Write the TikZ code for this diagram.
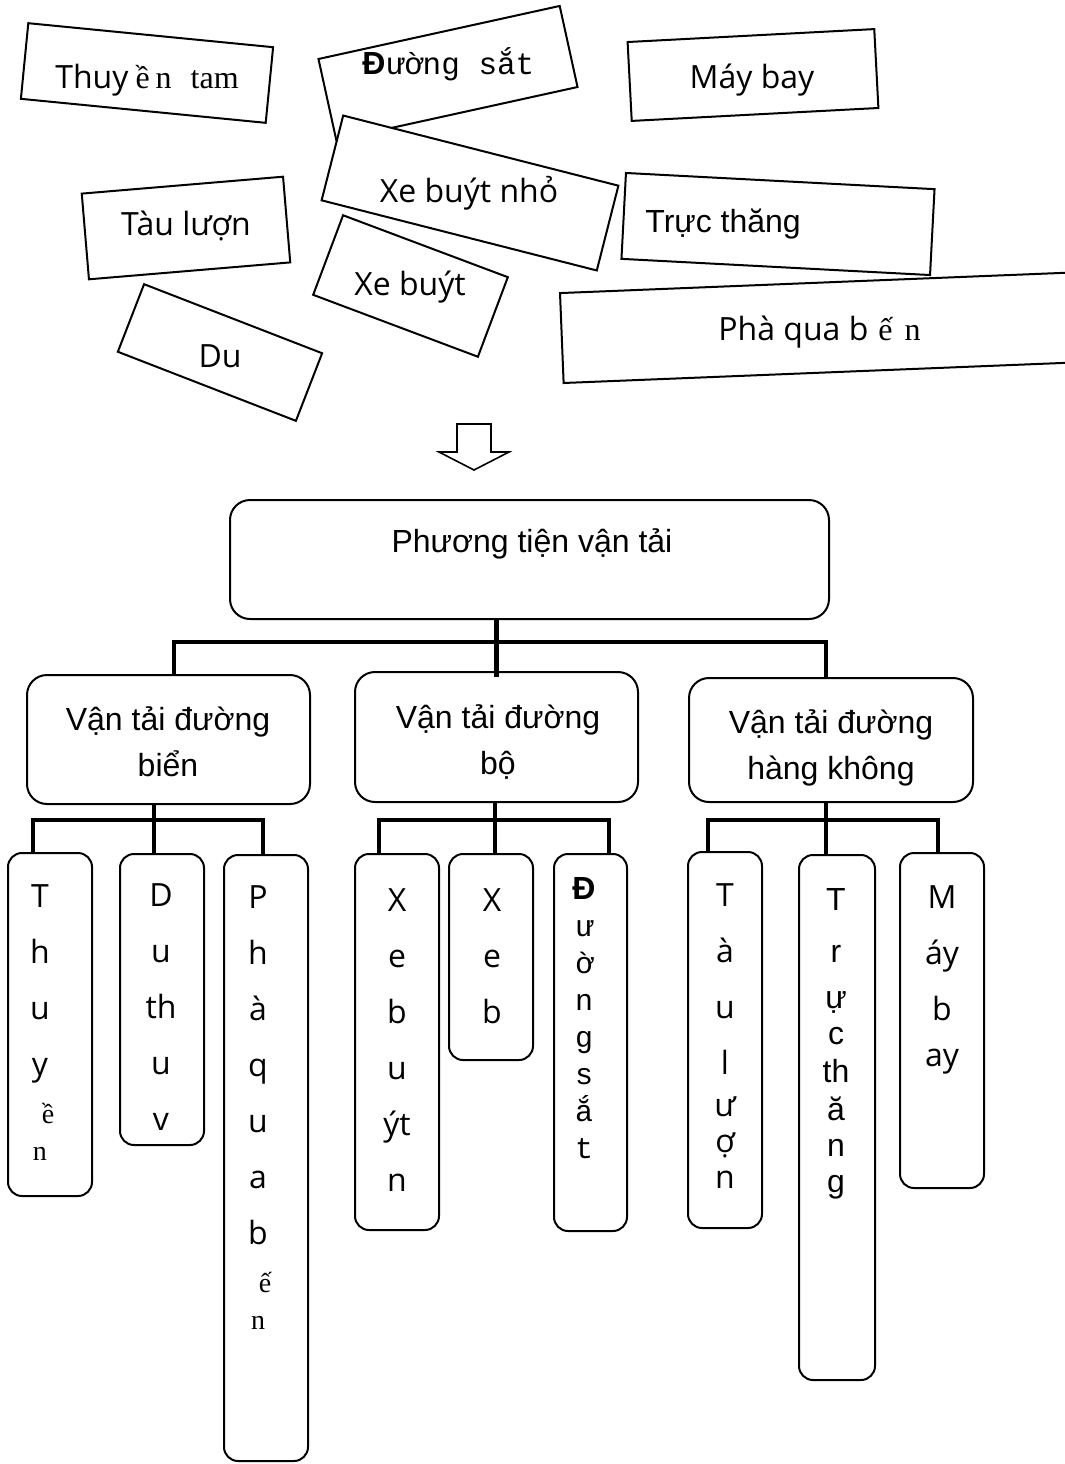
\documentclass[tikz,border=0pt]{standalone}
\usepackage{fontspec}
\setmainfont{Liberation Sans}
\newfontfamily\segoe{Open Sans}
\newfontfamily\tnr{Liberation Serif}
\newfontfamily\cour{Liberation Mono}
\newcommand{\serifsm}{\tnr\fontsize{14pt}{28pt}\selectfont}
\newcommand{\serifmd}{\tnr\fontsize{16pt}{18pt}\selectfont}
\usetikzlibrary{positioning}

\begin{document}
\begin{tikzpicture}[x=0.5pt,y=-0.5pt,
    card/.style={draw,fill=white,line width=1pt,inner sep=0pt},
    cardtext/.style={inner sep=0pt,anchor=base,font=\segoe\fontsize{16pt}{19pt}\selectfont},
    box/.style={draw,fill=white,rounded corners=10pt,line width=1pt,anchor=north,inner sep=0pt},
    boxtext/.style={inner sep=0pt,anchor=north,align=center,font=\fontsize{16pt}{23pt}\selectfont},
    leaf/.style={draw,fill=white,rounded corners=7pt,line width=1pt,anchor=north,inner sep=0pt,minimum width=42pt},
    letters/.style={inner sep=0pt,anchor=north,align=center,font=\segoe\fontsize{16pt}{28pt}\selectfont},
    branch/.style={line width=2.25pt}
    ]
    \useasboundingbox (0,0) rectangle (1065,1464);

    % the loose cards
    \node[card,minimum width=123pt,minimum height=38pt,rotate=-5.6] (cthuyen) at (147,73) {};
    \node[cardtext,anchor=base west] (tthuyen) at (55,88) {Thuy\kern3.5pt{\serifmd ề\kern3pt n\kern9.5pt tam}};
    \node[card,minimum width=123.5pt,minimum height=41.5pt,rotate=12.4] (cduongsat) at (448,73) {};
    \node[cardtext,anchor=base west] (tduongsat) at (362,74) {{\rmfamily\bfseries Đ}{\cour\fontsize{15.5pt}{18pt}\selectfont ường sắt}};
    \node[card,minimum width=123.5pt,minimum height=39.5pt,rotate=3] (cmaybay) at (753,75) {};
    \node[cardtext] (tmaybay) at (752,88) {Máy bay};
    \node[card,minimum width=142pt,minimum height=43.75pt,rotate=-14.3] (cxebuytnho) at (470,193) {};
    \node[cardtext] (txebuytnho) at (469,202) {Xe buýt nhỏ};
    \node[card,minimum width=101pt,minimum height=43pt,rotate=4.8] (ctauluon) at (186,228) {};
    \node[cardtext] (ttauluon) at (186,235) {Tàu lượn};
    \node[card,minimum width=154.5pt,minimum height=43pt,rotate=-3] (ctructhang) at (778,224) {};
    \node[cardtext,anchor=base west,font=\fontsize{16pt}{19pt}\selectfont] (ttructhang) at (645,232) {Trực thăng};
    \node[card,minimum width=88pt,minimum height=42.5pt,rotate=-20.6] (cxebuyt) at (410.5,286) {};
    \node[cardtext] (txebuyt) at (410,295) {Xe buýt};
    \node[card,minimum width=260pt,minimum height=45pt,rotate=2.3] (cpha) at (821.6,327.6) {};
    \node[cardtext,anchor=base west] (tpha) at (718,340) {Phà qua b\kern5pt{\serifmd ế\kern6pt n}};
    \node[card,minimum width=95.5pt,minimum height=36.25pt,rotate=-21.2] (cdu) at (220,352.5) {};
    \node[cardtext] (tdu) at (220,367) {Du};

    % the arrow
    \draw[line width=0.8pt] (457,424) -- (491,424) -- (491,452) -- (509,452) -- (474,470) -- (439,452) -- (457,452) -- cycle;

    % the tree
    \node[box,minimum width=299.5pt,minimum height=59.5pt] (root) at (529.5,499) {};
    \node[boxtext] (rootlbl) at (532,524) {\rule{0pt}{14pt}Phương tiện vận tải};

    \node[box,minimum width=141.5pt,minimum height=64.5pt] (sea) at (168.5,674) {};
    \node[boxtext] (sealbl) at (168,702) {\rule{0pt}{14pt}Vận tải đường\\biển};
    \node[box,minimum width=141.5pt,minimum height=65pt] (road) at (496.5,671) {};
    \node[boxtext] (roadlbl) at (498,700) {\rule{0pt}{14pt}Vận tải đường\\bộ};
    \node[box,minimum width=142pt,minimum height=62pt] (air) at (831,677) {};
    \node[boxtext] (airlbl) at (831,705) {\rule{0pt}{14pt}Vận tải đường\\hàng không};

    \node[leaf,minimum height=171.5pt] (lthuyen) at (50,852) {};
    \node[letters] (lthuyenlbl) at (40,879) {\rule{0pt}{14pt}T\\h\\u\\y\\[-4pt]{\serifsm\kern8pt ề}\\[-9.5pt]{\serifsm n}};
    \node[leaf,minimum height=145.5pt] (ldu) at (162,853) {};
    \node[letters] (ldulbl) at (161,878.5) {\rule{0pt}{14pt}D\\u\\th\\u\\v};
    \node[leaf,minimum height=303pt] (lpha) at (266,854) {};
    \node[letters] (lphalbl) at (258,880) {\rule{0pt}{14pt}P\\h\\à\\q\\u\\a\\b\\[-4pt]{\serifsm\kern7pt ế}\\[-9.5pt]{\serifsm n}};

    \node[leaf,minimum height=188pt] (lxebuytnho) at (397,853) {};
    \node[letters] (lxebuytnholbl) at (397,883.5) {\rule{0pt}{14pt}X\\e\\b\\u\\ýt\\n};
    \node[leaf,minimum height=103pt] (lxebuyt) at (491,853) {};
    \node[letters] (lxebuytlbl) at (492,883.5) {\rule{0pt}{14pt}X\\e\\b};
    \node[leaf,minimum width=36.5pt,minimum height=188.5pt] (lduongsat) at (590.5,853) {};
    \node[letters,font=\cour\fontsize{15pt}{18.5pt}\selectfont] (lduongsatlbl) at (584,871) {\rule{0pt}{14pt}{\rmfamily\bfseries\fontsize{16pt}{18.5pt}\selectfont Đ}\\ư\\ờ\\n\\g\\s\\ắ\\t};

    \node[leaf,minimum width=37pt,minimum height=188pt] (ltauluon) at (725,851) {};
    \node[letters] (ltauluonlbl) at (725,878.5) {\rule{0pt}{14pt}T\\à\\u\\l\\[-7pt]ư\\[-10pt]ợ\\[-10pt]n};
    \node[leaf,minimum width=38pt,minimum height=262.5pt] (ltructhang) at (837,854) {};
    \node[letters,font=\fontsize{16pt}{28pt}\selectfont] (ltructhanglbl) at (836,882.5) {\rule{0pt}{14pt}T\\[-2pt]r\\[-5pt]ự\\[-10pt]c\\[-9pt]th\\[-9pt]ă\\[-10pt]n\\[-10pt]g};
    \node[leaf,minimum height=167.5pt] (lmaybay) at (942,852) {};
    \node[letters] (lmaybaylbl) at (942,880.5) {\rule{0pt}{14pt}M\\áy\\b\\[-5pt]ay};

    % the edges
    \coordinate (bl) at (174,642);
    \coordinate (br) at (826,642);
    \draw[branch,shorten >=-3pt] (root.south -| road.north) -- (road.north);
    \draw[branch] (bl |- sea.north) -- (bl) -- (br) -- (br |- air.north);

    \coordinate (s1) at (33,820);
    \coordinate (s2) at (154,820);
    \coordinate (s3) at (263,820);
    \draw[branch] (s2 |- sea.south) -- (s2 |- ldu.north);
    \draw[branch] (s1 |- lthuyen.north) -- (s1) -- (s3) -- (s3 |- lpha.north);

    \coordinate (t1) at (379,820);
    \coordinate (t2) at (495,820);
    \coordinate (t3) at (609,820);
    \draw[branch] (t2 |- road.south) -- (t2 |- lxebuyt.north);
    \draw[branch] (t1 |- lxebuytnho.north) -- (t1) -- (t3) -- (t3 |- lduongsat.north);

    \coordinate (u1) at (708,820);
    \coordinate (u2) at (826,820);
    \coordinate (u3) at (938,820);
    \draw[branch] (u2 |- air.south) -- (u2 |- ltructhang.north);
    \draw[branch] (u1 |- ltauluon.north) -- (u1) -- (u3) -- (u3 |- lmaybay.north);
\end{tikzpicture}
\end{document}
